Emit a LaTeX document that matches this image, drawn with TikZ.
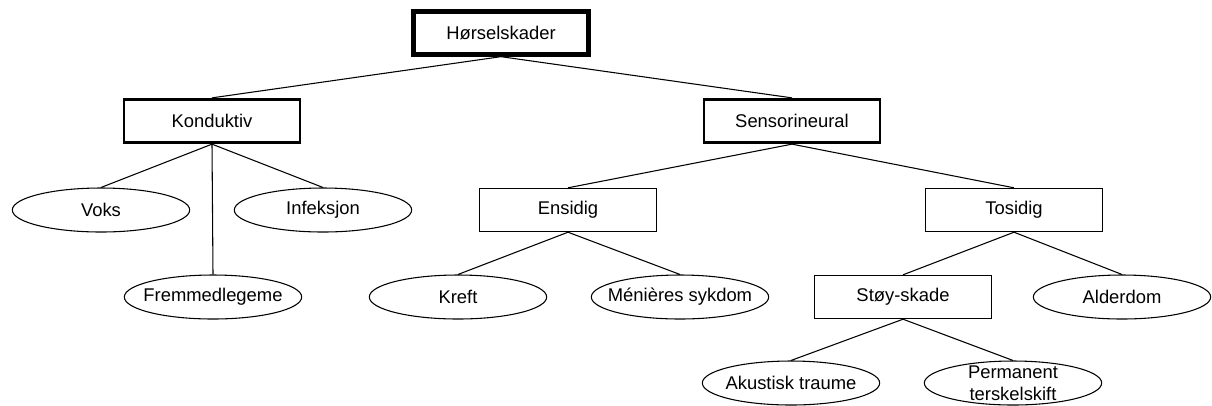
\documentclass[tikz,border=0pt]{standalone}
\usepackage{fontspec}
\setmainfont{Liberation Sans}
\usepackage{tikz}
\usetikzlibrary{shapes.geometric}
\newcommand{\widthbox}{133pt}
\newcommand{\heightbox}{32.5pt}
\tikzset{
    common/.style={draw, line width=0.8pt, minimum width=\widthbox, minimum height=\heightbox, font=\fontsize{13.8}{16.5}\selectfont},
    box/.style={common, rectangle, inner sep=0pt},
    mainbox/.style={box, line width=2.2pt, minimum width=132pt},
    rootbox/.style={box, line width=3.5pt, minimum width=131pt, minimum height=32pt},
    leaf/.style={common, ellipse, inner xsep=-30pt, inner ysep=-12pt, minimum height=33pt},
    link/.style={line width=0.8pt}
}
\begin{document}
\begin{tikzpicture}[x=0.75pt, y=-0.75pt]
\useasboundingbox (0,0) rectangle (1212,405);
\path
    (501,33) node[rootbox] (hs) {Hørselskader}
    (212,121) node[mainbox] (kond) {Konduktiv}
    (792,121) node[mainbox] (sens) {Sensorineural}
    (101,210) node[leaf] (voks) {Voks}
    (323,210) node[leaf] (infek) {Infeksjon}
    (213,297) node[leaf] (fremmed) {Fremmedlegeme}
    (568,210) node[box] (ensidig) {Ensidig}
    (1014,210) node[box] (tosidig) {Tosidig}
    (458,297) node[leaf] (kreft) {Kreft}
    (680,297) node[leaf] (menieres) {Ménières sykdom}
    (903,297) node[box] (stoy) {Støy-skade}
    (1122,297) node[leaf] (alder) {Alderdom}
    (791,383) node[leaf] (akust) {Akustisk traume}
    (1013,383) node[leaf] (perm) {};
\node[font=\fontsize{13.8}{16.5}\selectfont, align=center, inner sep=0pt] (permtext) at (perm.center) {Permanent\\terskelskift};

\draw[link] (hs.south) edge (kond.north) edge (sens.north);
\draw[link] (kond.south) edge (voks.north) edge (infek.north) edge (fremmed.north);
\draw[link] (sens.south) edge (ensidig.north) edge (tosidig.north);
\draw[link] (ensidig.south) edge (kreft.north) edge (menieres.north);
\draw[link] (tosidig.south) edge (stoy.north) edge (alder.north);
\draw[link] (stoy.south) edge (akust.north) edge (perm.north);
\end{tikzpicture}
\end{document}
